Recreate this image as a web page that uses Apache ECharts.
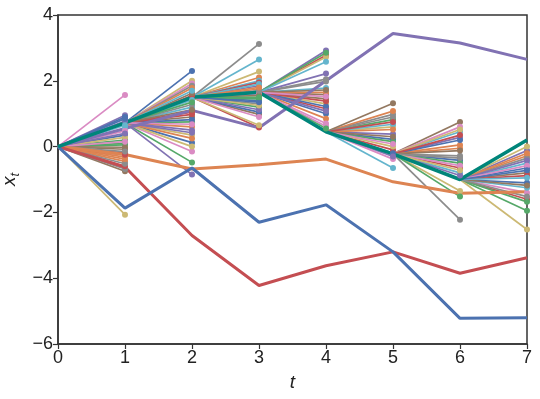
<!DOCTYPE html>
<html>
<head>
<meta charset="utf-8">
<script src="https://cdn.jsdelivr.net/npm/echarts@6/dist/echarts.min.js"></script>
<style>
  html, body { margin: 0; padding: 0; background: #fff; }
  #main { width: 540px; height: 399px; }
</style>
</head>
<body>
<div id="main"></div>
<script>
// time steps on the x axis
var steps = [0, 1, 2, 3, 4, 5, 6, 7]

// thick sample paths
var pathBlue   = [0, -1.87, -0.65, -2.3, -1.77, -3.2, -5.22, -5.2]
var pathOrange = [0, -0.24, -0.68, -0.55, -0.38, -1.07, -1.42, -1.37]
var pathRed    = [0, -0.62, -2.7, -4.22, -3.62, -3.2, -3.85, -3.38]
var pathPurple = [0, 0.55, 1.1, 0.57, 2.0, 3.44, 3.15, 2.65]
var pathTeal   = [0, 0.72, 1.5, 1.65, 0.45, -0.22, -1.0, 0.2]

// fan end values, one list per step (fan starts at pathTeal[t], ends at t+1)
var fan0 = [0.35, -0.45, 0.2, -0.2, 0.95, -0.75, 1.57, -0.68, -2.07, 0.55, 0.9, -0.32, 0.1, -0.6,
  0.78, -0.08, 0.48, -0.52, 0.28, 0.65, 0.85, -0.38, 0.05, -0.25, 0.4, -0.02, 0.15, -0.15]
var fan1 = [2.0, 1.2, 2.3, 0.6, -0.48, 1.55, -0.85, 0.9, 1.92, 1.85, 0.35, 1.42, 0.12, 1.78, 0.75,
  1.05, 0.5, 1.62, -0.15, 1.28, 0.0, 1.7, 0.82, 0.25, 1.35, 0.98, 0.42, 1.12, 0.68]
var fan2 = [3.12, 2.28, 2.65, 1.4, 2.1, 1.2, 0.58, 1.85, 0.98, 1.6, 1.3, 0.65, 2.0, 1.05, 1.75,
  1.45, 1.95, 1.12, 1.55, 0.9, 1.7, 1.25, 1.9, 1.35, 1.8, 1.5]
var fan3 = [2.78, 2.92, 1.45, 0.62, 2.05, 2.72, 1.78, 1.0, 0.85, 2.85, 1.15, 2.22, 1.58, 0.7, 1.98,
  1.3, 2.58, 1.22, 1.65, 0.55, 1.38, 1.08, 1.72, 1.52]
var fan4 = [0.98, 0.6, -0.65, 0.22, 1.08, 0.82, -0.1, 0.38, 1.32, -0.38, 0.9, 0.0, 0.68, -0.2,
  0.52, 0.15, 0.75, -0.3, 0.3, 0.08]
var fan5 = [-2.22, -1.35, 0.45, -0.42, 0.05, -1.52, -0.65, 0.28, 0.75, 0.6, -0.28, 0.52, -0.8,
  0.2, -0.05, -0.5, 0.35, -0.88, -0.12, -0.58, -0.35, -0.72]
var fan6 = [-0.5, -1.1, -0.28, -1.95, -1.6, -0.12, -0.8, -1.4, -0.35, -2.52, -1.25, -0.65, -0.2,
  -1.68, -0.88, -0.42, -1.18, -0.58, -1.52, 0.0, -0.95, -0.72]
var fans = [fan0, fan1, fan2, fan3, fan4, fan5, fan6]

var palette = ['#4C72B0', '#DD8452', '#55A868', '#C44E52', '#8172B3',
               '#937860', '#DA8BC3', '#8C8C8C', '#CCB974', '#64B5CD']

var series = []
var k = 0
fans.forEach(function (fan, t) {
  fan.forEach(function (v) {
    var c = palette[k % palette.length]
    k++
    series.push({
      type: 'line',
      silent: true,
      animation: false,
      lineStyle: { width: 1.7, color: c },
      itemStyle: { color: c },
      symbolSize: 6,
      data: [
        { value: [steps[t], pathTeal[t]], symbol: 'none' },
        { value: [steps[t + 1], v], symbol: 'circle' }
      ]
    })
  })
})

function thick(path, color) {
  return {
    type: 'line',
    silent: true,
    animation: false,
    symbol: 'none',
    lineStyle: { width: 3, color: color },
    data: steps.map(function (s, i) { return [s, path[i]] })
  }
}
series.push(thick(pathOrange, '#DD8452'))
series.push(thick(pathRed, '#C44E52'))
series.push(thick(pathPurple, '#8172B3'))
series.push(thick(pathBlue, '#4C72B0'))
var tl = thick(pathTeal, '#00857a')
tl.lineStyle.width = 3.5
series.push(tl)

var font = 'Liberation Sans, Arial, sans-serif'
var minus = function (v) { return String(v).replace('-', '\u2212') }

var chart = echarts.init(document.getElementById('main'))
chart.setOption({
  backgroundColor: '#fff',
  grid: { left: 58, right: 13, top: 15, bottom: 55, show: true, outerBoundsMode: 'none',
          borderColor: '#333', borderWidth: 1.5, backgroundColor: 'transparent' },
  xAxis: {
    type: 'value', min: 0, max: 7, interval: 1,
    name: 't', nameLocation: 'middle', nameGap: 29,
    nameTextStyle: { fontFamily: font, fontSize: 19, fontStyle: 'italic', color: '#222' },
    axisLine: { show: true, onZero: false, lineStyle: { color: '#333', width: 1.5 } },
    axisTick: { show: true, length: 5, lineStyle: { color: '#333', width: 1.2 } },
    axisLabel: { fontFamily: font, fontSize: 18, color: '#222', margin: 5, formatter: minus },
    splitLine: { show: false }
  },
  yAxis: {
    type: 'value', min: -6, max: 4, interval: 2,
    name: '{a|x}{b|t}', nameLocation: 'middle', nameGap: 33, nameRotate: 90,
    nameTextStyle: {
      rich: {
        a: { fontFamily: font, fontSize: 19, fontStyle: 'italic', color: '#222' },
        b: { fontFamily: font, fontSize: 13, fontStyle: 'italic', color: '#222', padding: [10, 0, 0, 0] }
      }
    },
    axisLine: { show: true, onZero: false, lineStyle: { color: '#333', width: 1.5 } },
    axisTick: { show: true, length: 5, lineStyle: { color: '#333', width: 1.2 } },
    axisLabel: { fontFamily: font, fontSize: 18, color: '#222', margin: 5, formatter: minus },
    splitLine: { show: false }
  },
  series: series
})
</script>
</body>
</html>
